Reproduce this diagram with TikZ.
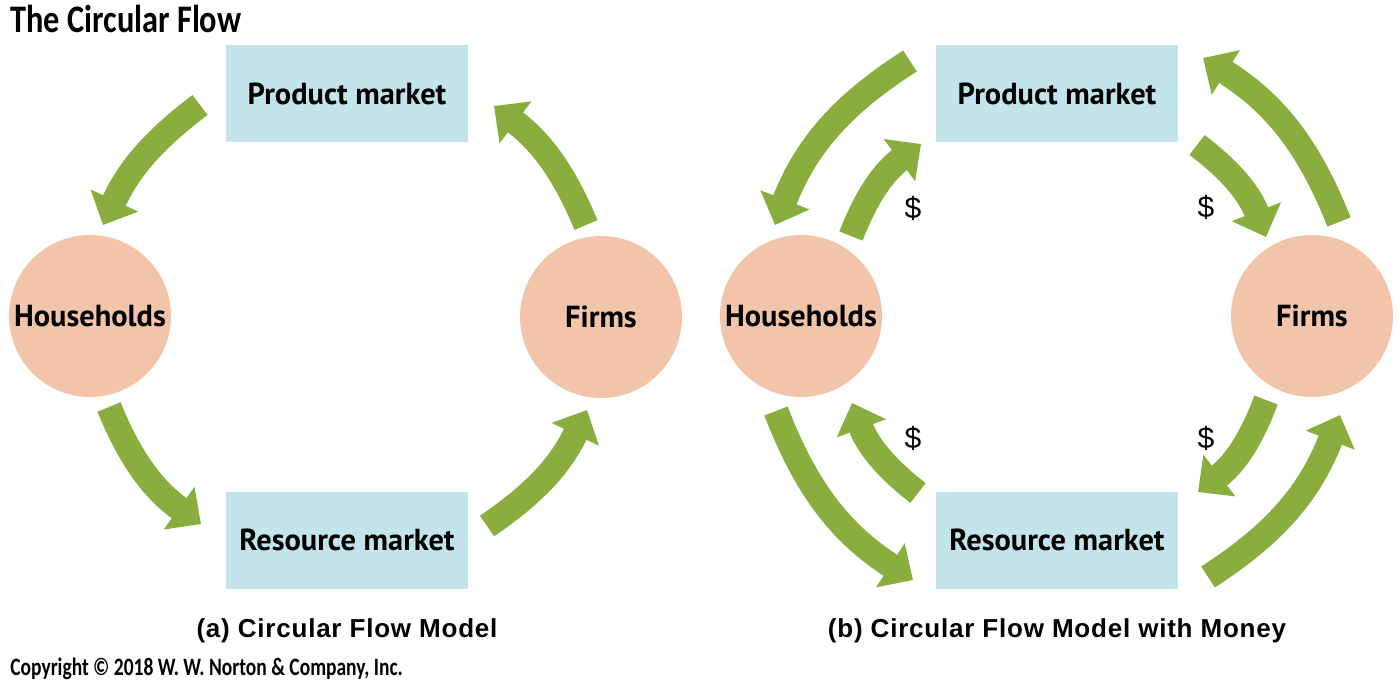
\documentclass[tikz,border=0pt]{standalone}
\usepackage{fontspec}
\setmainfont{PT Sans}
\newfontfamily\labelfont{PT Sans}
\newfontfamily\capfont{Liberation Sans}[LetterSpace=3]
\newfontfamily\dollarfont{Liberation Sans}
\newfontfamily\titlefont{Carlito}[FakeStretch=0.83]
\newfontfamily\copyfont{Carlito}[FakeStretch=0.78]
\usetikzlibrary{arrows.meta}
\definecolor{boxblue}{HTML}{C2E4EA}
\definecolor{circpeach}{HTML}{F2C4AA}
\definecolor{arrgreen}{HTML}{8AAE3E}
\begin{document}
\begin{tikzpicture}[x=0.5pt,y=-0.5pt,
  market/.style={fill=boxblue, minimum width=121pt, minimum height=48.5pt, inner sep=0pt,
    font=\labelfont\bfseries\fontsize{15.2}{17}\selectfont},
  agent/.style={circle, fill=circpeach, minimum size=81pt, inner sep=0pt,
    font=\labelfont\bfseries\fontsize{15.2}{17}\selectfont},
  flow/.style={draw=arrgreen, line width=12.5pt, -{Triangle[width=25.5pt,length=13.5pt]}},
  money/.style={font=\dollarfont\fontsize{15}{17}\selectfont},
  caption/.style={font=\capfont\bfseries\fontsize{13}{15}\selectfont},
]
\useasboundingbox (0,0) rectangle (1400,683);

% title and copyright
\node[anchor=base west, inner sep=0pt, font=\titlefont\bfseries\fontsize{19.5}{22}\selectfont] (title) at (10,33) {The Circular Flow};
\node[anchor=base west, inner sep=0pt, font=\copyfont\bfseries\fontsize{12.5}{14}\selectfont] (copy) at (10,675) {Copyright \textcopyright\ 2018 W. W. Norton \& Company, Inc.};

% panel (a)
\node[market] (pa) at (347,93.5) {Product market};
\node[market] (ra) at (347,540) {Resource market};
\node[agent] (ha) at (90,316) {Households};
\node[agent] (fa) at (601,317) {Firms};
\node[caption] (capa) at (347,631) {(a) Circular Flow Model};

\coordinate (a1s) at (200,105); \coordinate (a1e) at (103,225);
\coordinate (a2s) at (109,407); \coordinate (a2e) at (201,524);
\coordinate (a3s) at (487,526); \coordinate (a3e) at (587,410);
\coordinate (a4s) at (586,225); \coordinate (a4e) at (494,106);
\draw[flow] (a1s) to[bend right=14] (a1e);
\draw[flow] (a2s) to[bend right=16] (a2e);
\draw[flow] (a3s) to[bend right=15] (a3e);
\draw[flow] (a4s) to[bend right=15] (a4e);

% panel (b)
\node[market] (pb) at (1057,93.5) {Product market};
\node[market] (rb) at (1057,540) {Resource market};
\node[agent] (hb) at (801,316) {Households};
\node[agent] (fb) at (1312,316) {Firms};
\node[caption] (capb) at (1057,631) {(b) Circular Flow Model with Money};

\coordinate (b1s) at (910,61);   \coordinate (b1e) at (775,225);
\coordinate (b2s) at (851,236);  \coordinate (b2e) at (921,144);
\coordinate (b3s) at (1197,145); \coordinate (b3e) at (1266,237);
\coordinate (b4s) at (1339,222); \coordinate (b4e) at (1203,58);
\coordinate (b5s) at (918,493);  \coordinate (b5e) at (852,403);
\coordinate (b6s) at (776,411);  \coordinate (b6e) at (913,580);
\coordinate (b7s) at (1266,400); \coordinate (b7e) at (1198,492);
\coordinate (b8s) at (1208,577); \coordinate (b8e) at (1340,415);
\draw[flow] (b1s) to[bend right=18] (b1e);
\draw[flow] (b2s) to[bend left=16] (b2e);
\draw[flow] (b3s) to[bend left=16] (b3e);
\draw[flow] (b4s) to[bend right=18] (b4e);
\draw[flow] (b5s) to[bend left=16] (b5e);
\draw[flow] (b6s) to[bend right=18] (b6e);
\draw[flow] (b7s) to[bend left=16] (b7e);
\draw[flow] (b8s) to[bend right=18] (b8e);

\node[money] (m1) at (913,208) {\$};
\node[money] (m2) at (1206,207) {\$};
\node[money] (m3) at (913,438) {\$};
\node[money] (m4) at (1206,438) {\$};
\end{tikzpicture}
\end{document}
